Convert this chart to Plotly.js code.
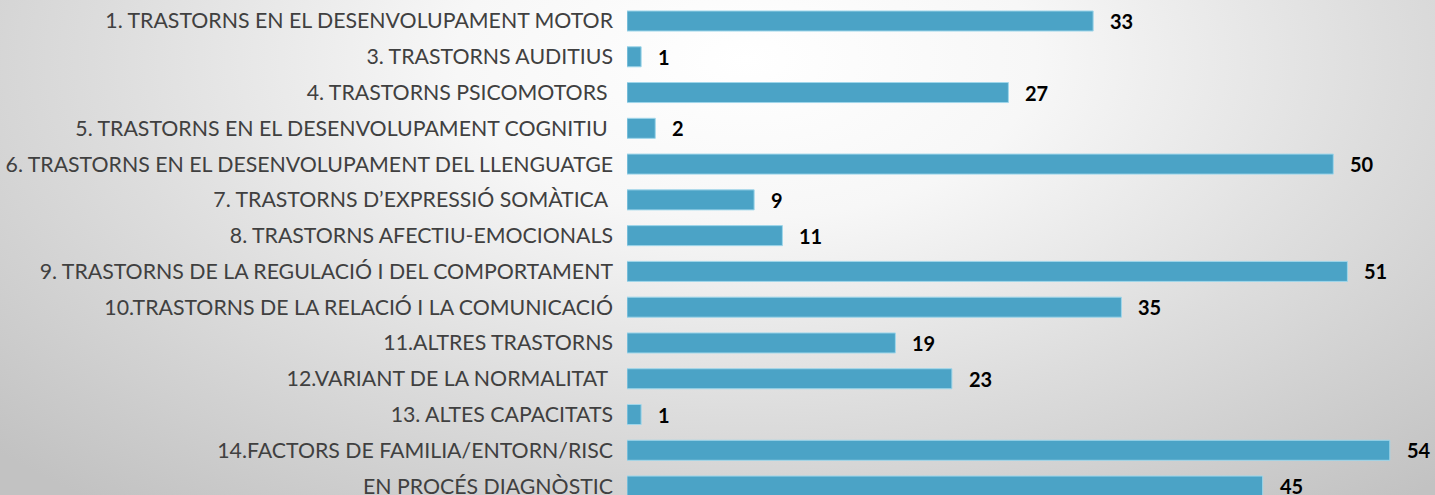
<!DOCTYPE html>
<html>
<head>
<meta charset="utf-8">
<script src="https://cdn.plot.ly/plotly-3.0.1.min.js"></script>
<style>
  html, body { margin: 0; padding: 0; width: 1435px; height: 495px; overflow: hidden; }
  body { background: radial-gradient(ellipse 72% 115% at 52% 12%, #ffffff 0%, #f7f7f7 28%, #dddddd 62%, #c2c2c2 100%); }
  #chart { width: 1435px; height: 495px; }
</style>
</head>
<body>
<div id="chart"></div>
<script>
const categories = [
  "1. TRASTORNS EN EL DESENVOLUPAMENT MOTOR",
  "3. TRASTORNS AUDITIUS",
  "4. TRASTORNS PSICOMOTORS ",
  "5. TRASTORNS EN EL DESENVOLUPAMENT COGNITIU ",
  "6. TRASTORNS EN EL DESENVOLUPAMENT DEL LLENGUATGE",
  "7. TRASTORNS D’EXPRESSIÓ SOMÀTICA ",
  "8. TRASTORNS AFECTIU-EMOCIONALS",
  "9. TRASTORNS DE LA REGULACIÓ I DEL COMPORTAMENT",
  "10.TRASTORNS DE LA RELACIÓ I LA COMUNICACIÓ",
  "11.ALTRES TRASTORNS",
  "12.VARIANT DE LA NORMALITAT ",
  "13. ALTES CAPACITATS",
  "14.FACTORS DE FAMILIA/ENTORN/RISC",
  "EN PROCÉS DIAGNÒSTIC"
];
const values = [33, 1, 27, 2, 50, 9, 11, 51, 35, 19, 23, 1, 54, 45];

const trace = {
  type: 'bar',
  orientation: 'h',
  x: values,
  y: categories,
  marker: { color: '#4ba3c6', line: { color: '#9fd6ea', width: 1 } },
  hoverinfo: 'none'
};

const annotations = values.map((v, i) => ({
  x: v, y: categories[i], xref: 'x', yref: 'y',
  text: '<b>' + v + '</b>', showarrow: false,
  xanchor: 'left', xshift: 15,
  font: { family: 'Lato, "Open Sans", sans-serif', size: 20, color: '#000000' }
}));

const layout = {
  width: 1435, height: 495,
  margin: { l: 627, r: 0, t: 0, b: 0 },
  paper_bgcolor: 'rgba(0,0,0,0)',
  plot_bgcolor: 'rgba(0,0,0,0)',
  showlegend: false,
  bargap: 0.44,
  xaxis: { range: [0, 57.2], showgrid: false, zeroline: false, showticklabels: false, showline: false, fixedrange: true },
  yaxis: {
    type: 'category',
    range: [13.25, -0.587],
    showgrid: false, zeroline: false, showline: false,
    ticks: '',
    ticklabelstandoff: 13,
    tickfont: { family: 'Lato, "Open Sans", sans-serif', size: 21.3, color: '#404040' },
    fixedrange: true
  },
  annotations: annotations
};

Plotly.newPlot('chart', [trace], layout, { displayModeBar: false, staticPlot: true });
</script>
</body>
</html>
